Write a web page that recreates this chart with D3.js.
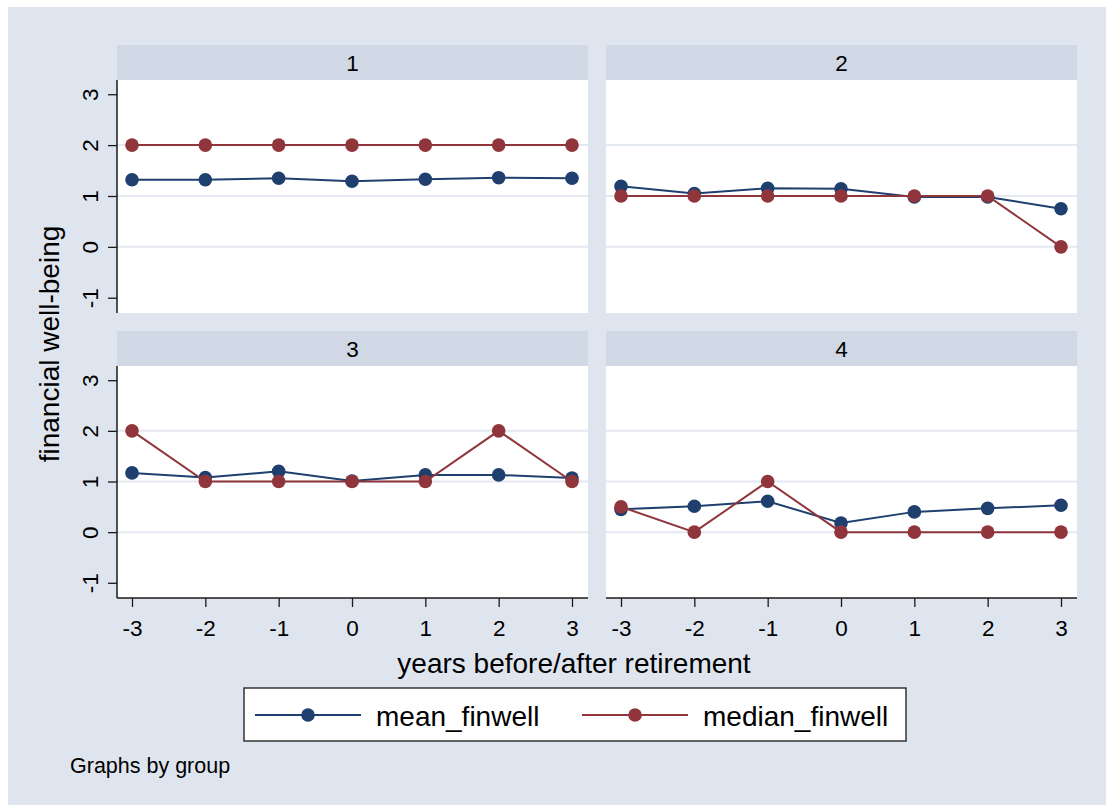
<!DOCTYPE html>
<html>
<head>
<meta charset="utf-8">
<script src="https://cdn.jsdelivr.net/npm/d3@7"></script>
<style>
  html, body { margin: 0; padding: 0; background: #ffffff; }
  svg { display: block; font-family: "Liberation Sans", Arial, Helvetica, sans-serif; }
</style>
</head>
<body>
<svg id="chart" width="1106" height="805"></svg>
<script>
// Years relative to retirement (x axis) and the four groups (panels)
const years = [-3, -2, -1, 0, 1, 2, 3];
const groups = ["1", "2", "3", "4"];

// Mean financial well-being by year, one array per group
const meanFinwell1 = [1.32, 1.32, 1.35, 1.29, 1.33, 1.36, 1.35];
const meanFinwell2 = [1.19, 1.05, 1.15, 1.14, 0.98, 0.98, 0.75];
const meanFinwell3 = [1.17, 1.08, 1.20, 1.01, 1.13, 1.13, 1.07];
const meanFinwell4 = [0.45, 0.51, 0.61, 0.18, 0.40, 0.47, 0.53];

// Median financial well-being by year, one array per group
const medianFinwell1 = [2, 2, 2, 2, 2, 2, 2];
const medianFinwell2 = [1, 1, 1, 1, 1, 1, 0];
const medianFinwell3 = [2, 1, 1, 1, 1, 2, 1];
const medianFinwell4 = [0.5, 0, 1, 0, 0, 0, 0];

const yTicks = [-1, 0, 1, 2, 3];
const yGrid = [0, 1, 2];
const xTicks = years;

const seriesNames = ["mean_finwell", "median_finwell"];
const meanByGroup = [meanFinwell1, meanFinwell2, meanFinwell3, meanFinwell4];
const medianByGroup = [medianFinwell1, medianFinwell2, medianFinwell3, medianFinwell4];

const COLORS = { mean: "#1f3f6f", median: "#90353b" };
const BG = "#dfe5ef", STRIP = "#d1d8e5", GRID = "#e3e8f1", AXIS = "#1a1a1a";
const fmt = d => d3.format("d")(d).replace("\u2212", "-");

const svg = d3.select("#chart");

// Outer graph region
svg.append("rect").attr("x", 8).attr("y", 7).attr("width", 1098).attr("height", 798).attr("fill", BG);

// Panel geometry (columns and rows of the 2x2 grid)
const cols = [{ x0: 117, x1: 588 }, { x0: 606, x1: 1077 }];
const rows = [{ s0: 45, p0: 80, p1: 313 }, { s0: 331, p0: 366, p1: 598 }];

groups.forEach((g, i) => {
  const c = cols[i % 2], r = rows[Math.floor(i / 2)];
  const isLeft = i % 2 === 0, isBottom = i >= 2;

  const x = d3.scaleLinear().domain([-3, 3]).range([c.x0 + 15, c.x1 - 16]);
  const y = d3.scaleLinear().domain([-1.3, 3.28]).range([r.p1, r.p0]);

  const panel = svg.append("g");

  // Title strip
  panel.append("rect").attr("x", c.x0).attr("y", r.s0)
    .attr("width", c.x1 - c.x0).attr("height", r.p0 - r.s0).attr("fill", STRIP);
  panel.append("text").attr("x", (c.x0 + c.x1) / 2).attr("y", r.s0 + 25.5)
    .attr("text-anchor", "middle").attr("font-size", 22.5).attr("fill", "#000").text(g);

  // Plot region
  panel.append("rect").attr("x", c.x0).attr("y", r.p0)
    .attr("width", c.x1 - c.x0).attr("height", r.p1 - r.p0).attr("fill", "#fff");

  // Horizontal gridlines
  panel.selectAll(".grid").data(yGrid).join("line")
    .attr("x1", c.x0).attr("x2", c.x1)
    .attr("y1", d => y(d)).attr("y2", d => y(d))
    .attr("stroke", GRID).attr("stroke-width", 2);

  // Y axis (left column only)
  if (isLeft) {
    const yAxis = d3.axisLeft(y).tickValues(yTicks).tickSize(9).tickFormat(fmt);
    const ga = panel.append("g").attr("transform", `translate(${c.x0},0)`).call(yAxis);
    ga.select(".domain").attr("d", `M0,${r.p0}V${r.p1}`).attr("stroke", AXIS).attr("stroke-width", 1.5);
    ga.selectAll(".tick line").attr("stroke", AXIS).attr("stroke-width", 1.3);
    ga.selectAll(".tick text")
      .attr("font-size", 22.5).attr("fill", "#000")
      .attr("font-family", "Liberation Sans, Arial, sans-serif")
      .attr("x", null).attr("dy", null).attr("text-anchor", "middle")
      .attr("transform", "translate(-19,0) rotate(-90)").attr("y", 0);
  }

  // X axis (bottom row only)
  if (isBottom) {
    const xAxis = d3.axisBottom(x).tickValues(xTicks).tickSize(9).tickFormat(fmt);
    const ga = panel.append("g").attr("transform", `translate(0,${r.p1})`).call(xAxis);
    ga.select(".domain").attr("d", `M${c.x0},0H${c.x1}`).attr("stroke", AXIS).attr("stroke-width", 1.5);
    ga.selectAll(".tick line").attr("stroke", AXIS).attr("stroke-width", 1.3);
    ga.selectAll(".tick text").attr("font-size", 22.5).attr("fill", "#000")
      .attr("font-family", "Liberation Sans, Arial, sans-serif")
      .attr("dy", null).attr("y", 38);
  }

  // Series: mean first, median on top
  const series = [
    { values: meanByGroup[i], color: COLORS.mean },
    { values: medianByGroup[i], color: COLORS.median }
  ];
  const line = d3.line().x(d => x(d[0])).y(d => y(d[1]));
  series.forEach(s => {
    const pts = years.map((yr, k) => [yr, s.values[k]]);
    panel.append("path").datum(pts).attr("d", line)
      .attr("fill", "none").attr("stroke", s.color).attr("stroke-width", 2);
    panel.selectAll(null).data(pts).join("circle")
      .attr("cx", d => x(d[0])).attr("cy", d => y(d[1])).attr("r", 6.8)
      .attr("fill", s.color);
  });
});

// Axis titles
svg.append("text").attr("transform", "translate(59,344) rotate(-90)")
  .attr("text-anchor", "middle").attr("font-size", 28).attr("fill", "#000")
  .text("financial well-being");
svg.append("text").attr("x", 574).attr("y", 673)
  .attr("text-anchor", "middle").attr("font-size", 28).attr("fill", "#000")
  .text("years before/after retirement");

// Legend
const legend = svg.append("g");
legend.append("rect").attr("x", 244).attr("y", 688).attr("width", 662).attr("height", 53)
  .attr("fill", "#fff").attr("stroke", "#333").attr("stroke-width", 1.5);
const legendItems = [
  { name: seriesNames[0], color: COLORS.mean, x0: 255 },
  { name: seriesNames[1], color: COLORS.median, x0: 582 }
];
legendItems.forEach(it => {
  legend.append("line").attr("x1", it.x0).attr("x2", it.x0 + 106)
    .attr("y1", 715).attr("y2", 715).attr("stroke", it.color).attr("stroke-width", 2.2);
  legend.append("circle").attr("cx", it.x0 + 53).attr("cy", 715).attr("r", 6.8).attr("fill", it.color);
  legend.append("text").attr("x", it.x0 + 121).attr("y", 726)
    .attr("font-size", 28).attr("fill", "#000").text(it.name);
});

// Note
svg.append("text").attr("x", 70).attr("y", 773).attr("font-size", 21.5).attr("fill", "#000")
  .text("Graphs by group");
</script>
</body>
</html>
